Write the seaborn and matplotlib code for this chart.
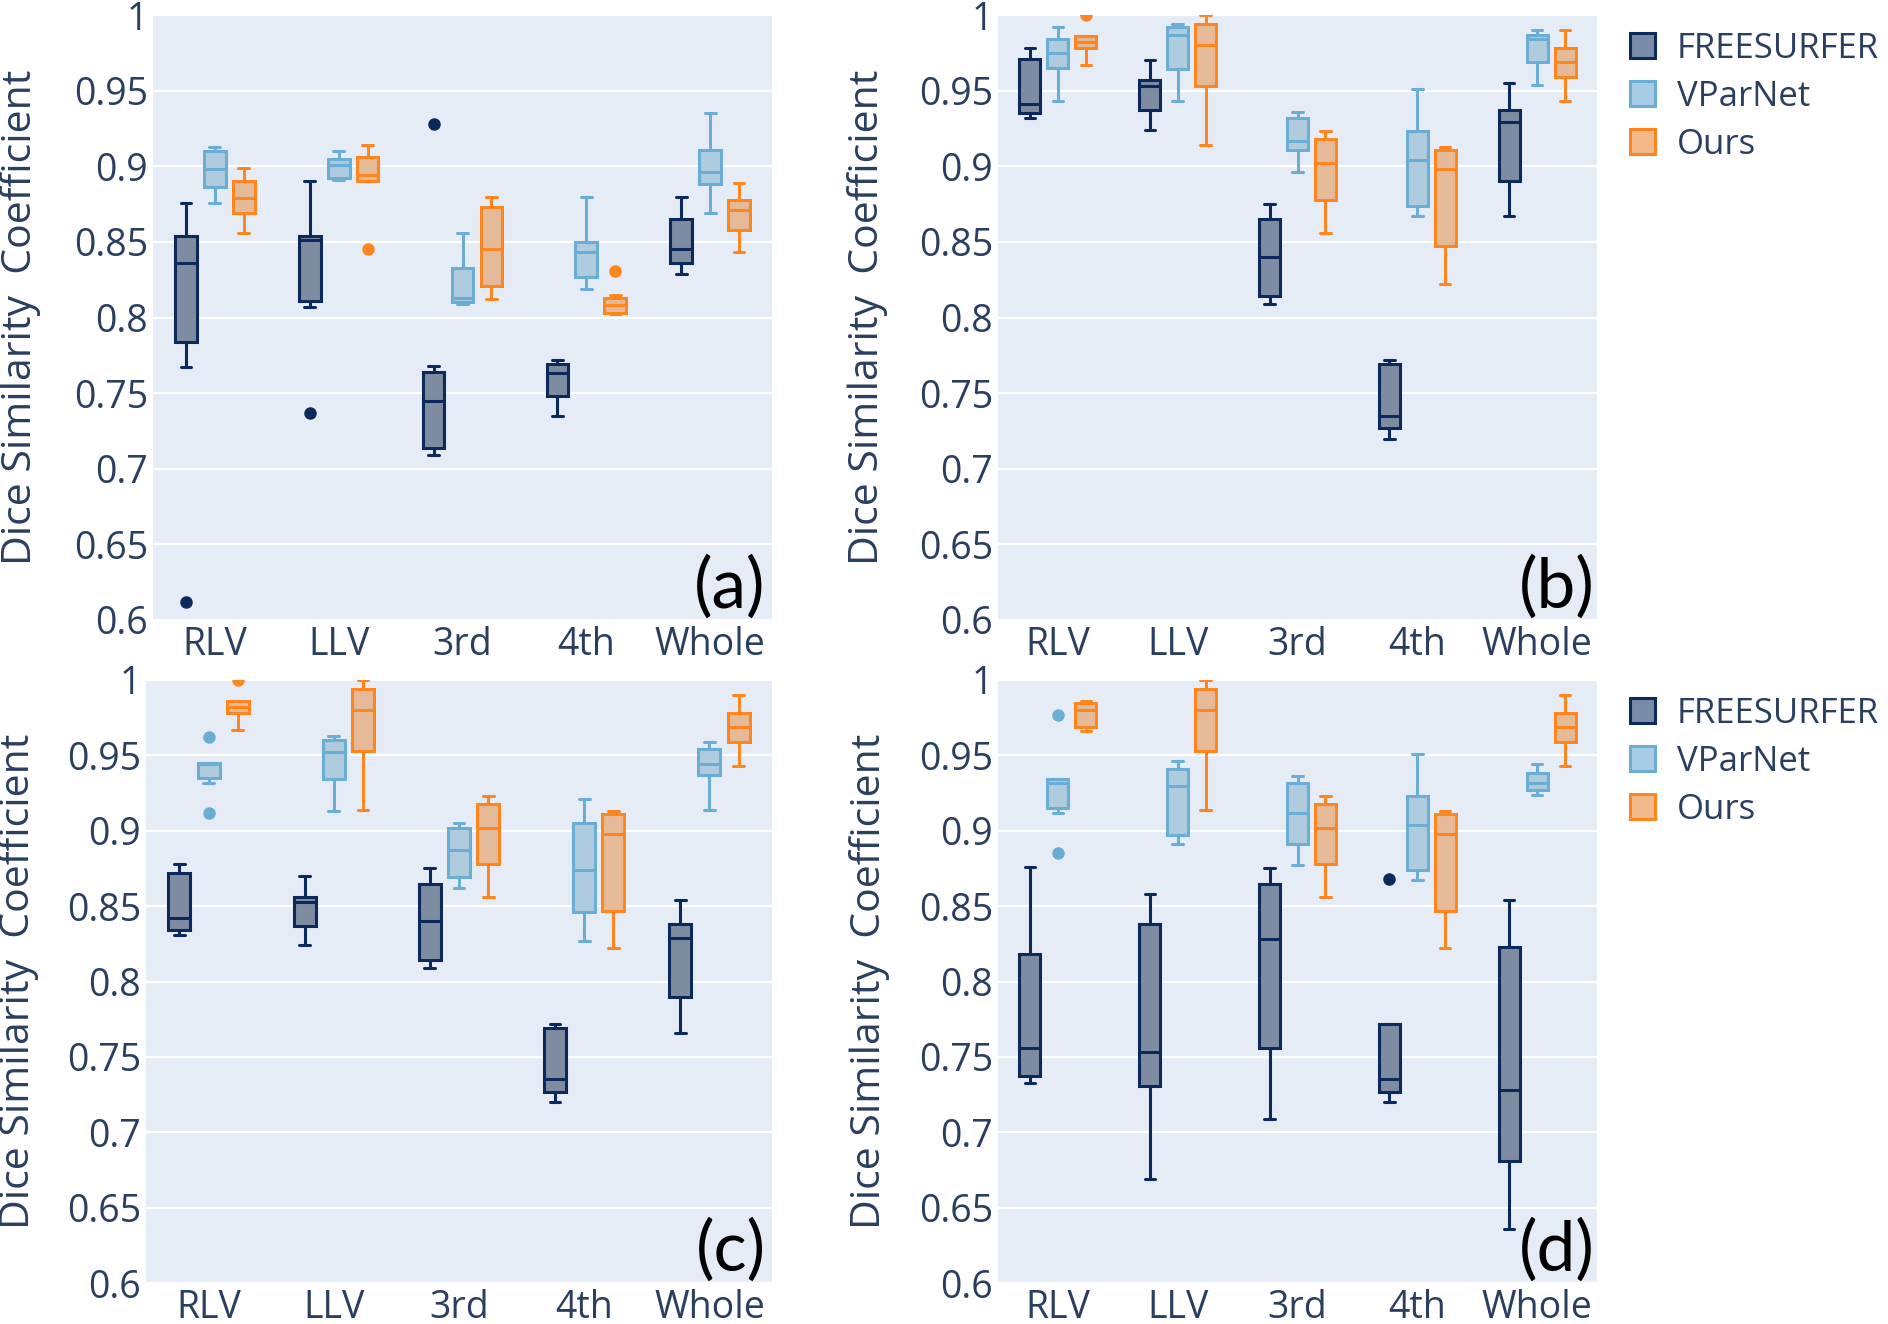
import numpy as np
import pandas as pd
import matplotlib
matplotlib.use("Agg")
import matplotlib.pyplot as plt
from matplotlib.patches import Patch
import seaborn as sns

# categories / labels
regions = ["RLV", "LLV", "3rd", "4th", "Whole"]
methods = ["FREESURFER", "VParNet", "Ours"]
yticks = [0.6, 0.65, 0.7, 0.75, 0.8, 0.85, 0.9, 0.95, 1.0]
ytick_labels = ["0.6", "0.65", "0.7", "0.75", "0.8", "0.85", "0.9", "0.95", "1"]
panel_tags = ["(a)", "(b)", "(c)", "(d)"]

# per-box samples, one list per region (RLV, LLV, 3rd, 4th, Whole)
a_free = [[0.612, 0.767, 0.784, 0.810, 0.836, 0.845, 0.854, 0.876, 0.876],
          [0.737, 0.807, 0.811, 0.830, 0.851, 0.853, 0.854, 0.890, 0.890],
          [0.709, 0.709, 0.714, 0.730, 0.745, 0.755, 0.764, 0.768, 0.928],
          [0.735, 0.748, 0.763, 0.769, 0.772],
          [0.829, 0.836, 0.845, 0.865, 0.880]]
a_vpar = [[0.876, 0.886, 0.898, 0.910, 0.913],
          [0.891, 0.892, 0.901, 0.905, 0.910],
          [0.809, 0.810, 0.813, 0.833, 0.856],
          [0.819, 0.827, 0.843, 0.850, 0.880],
          [0.869, 0.888, 0.896, 0.911, 0.935]]
a_ours = [[0.856, 0.869, 0.879, 0.890, 0.899],
          [0.845, 0.890, 0.890, 0.892, 0.894, 0.900, 0.906, 0.914, 0.914],
          [0.812, 0.821, 0.845, 0.873, 0.880],
          [0.802, 0.802, 0.803, 0.805, 0.808, 0.810, 0.813, 0.815, 0.831],
          [0.843, 0.858, 0.871, 0.878, 0.889]]

b_free = [[0.932, 0.935, 0.941, 0.971, 0.978],
          [0.924, 0.937, 0.953, 0.957, 0.970],
          [0.809, 0.814, 0.840, 0.865, 0.875],
          [0.720, 0.727, 0.735, 0.769, 0.772],
          [0.867, 0.890, 0.929, 0.937, 0.955]]
b_vpar = [[0.943, 0.965, 0.975, 0.984, 0.992],
          [0.943, 0.964, 0.987, 0.992, 0.994],
          [0.896, 0.911, 0.917, 0.932, 0.936],
          [0.867, 0.874, 0.904, 0.923, 0.951],
          [0.954, 0.969, 0.984, 0.987, 0.990]]
b_ours = [[0.967, 0.967, 0.978, 0.980, 0.982, 0.984, 0.986, 0.986, 1.000],
          [0.914, 0.953, 0.980, 0.994, 1.000],
          [0.856, 0.878, 0.902, 0.918, 0.923],
          [0.822, 0.847, 0.898, 0.911, 0.913],
          [0.943, 0.959, 0.969, 0.978, 0.990]]

c_free = [[0.831, 0.834, 0.842, 0.872, 0.878],
          [0.824, 0.837, 0.853, 0.856, 0.870],
          [0.809, 0.814, 0.840, 0.865, 0.875],
          [0.720, 0.727, 0.735, 0.769, 0.772],
          [0.766, 0.790, 0.829, 0.838, 0.854]]
c_vpar = [[0.912, 0.932, 0.935, 0.940, 0.944, 0.945, 0.945, 0.945, 0.962],
          [0.913, 0.934, 0.952, 0.960, 0.963],
          [0.862, 0.869, 0.887, 0.902, 0.905],
          [0.827, 0.846, 0.874, 0.905, 0.921],
          [0.914, 0.937, 0.944, 0.954, 0.959]]
c_ours = [[0.967, 0.967, 0.978, 0.980, 0.982, 0.984, 0.986, 0.986, 1.000],
          [0.914, 0.953, 0.980, 0.994, 1.000],
          [0.856, 0.878, 0.902, 0.918, 0.923],
          [0.822, 0.847, 0.898, 0.911, 0.913],
          [0.943, 0.959, 0.969, 0.978, 0.990]]

d_free = [[0.733, 0.737, 0.756, 0.818, 0.876],
          [0.669, 0.731, 0.753, 0.838, 0.858],
          [0.709, 0.756, 0.828, 0.865, 0.875],
          [0.720, 0.720, 0.727, 0.730, 0.735, 0.750, 0.772, 0.772, 0.868],
          [0.636, 0.681, 0.728, 0.823, 0.854]]
d_vpar = [[0.885, 0.912, 0.915, 0.925, 0.932, 0.933, 0.934, 0.934, 0.977],
          [0.891, 0.897, 0.930, 0.941, 0.946],
          [0.877, 0.891, 0.912, 0.932, 0.936],
          [0.867, 0.874, 0.904, 0.923, 0.951],
          [0.924, 0.927, 0.932, 0.938, 0.944]]
d_ours = [[0.966, 0.969, 0.980, 0.985, 0.986],
          [0.914, 0.953, 0.980, 0.994, 1.000],
          [0.856, 0.878, 0.902, 0.918, 0.923],
          [0.822, 0.847, 0.898, 0.911, 0.913],
          [0.943, 0.959, 0.969, 0.978, 0.990]]

panels = {
    "(a)": {"FREESURFER": a_free, "VParNet": a_vpar, "Ours": a_ours},
    "(b)": {"FREESURFER": b_free, "VParNet": b_vpar, "Ours": b_ours},
    "(c)": {"FREESURFER": c_free, "VParNet": c_vpar, "Ours": c_ours},
    "(d)": {"FREESURFER": d_free, "VParNet": d_vpar, "Ours": d_ours},
}

rows = []
for tag, by_method in panels.items():
    for m, boxes in by_method.items():
        for reg, vals in zip(regions, boxes):
            for v in vals:
                rows.append((tag, reg, m, v))
df = pd.DataFrame(rows, columns=["panel", "region", "method", "dsc"])

line_colors = {"FREESURFER": "#0b2a5b", "VParNet": "#6aaed6", "Ours": "#fe8620"}
fill_colors = {"FREESURFER": "#788ba8", "VParNet": "#a7cde6", "Ours": "#f2b98b"}
text_color = "#2a3f5f"

sns.set_theme(style="darkgrid", rc={"axes.facecolor": "#E5ECF6", "grid.color": "white"})
plt.rcParams["font.family"] = ["Open Sans", "DejaVu Sans"]

W, H = 1888, 1324
fig = plt.figure(figsize=(W / 100, H / 100), dpi=100)

# plot areas in pixels: left, top, right, bottom
boxes_px = {
    "(a)": (153, 15, 772, 620),
    "(b)": (998, 15, 1597, 620),
    "(c)": (146, 680, 772, 1283),
    "(d)": (998, 680, 1597, 1283),
}
ylabel_x = {"(a)": 21, "(b)": 867, "(c)": 19, "(d)": 869}
tag_x = {"(a)": 0.99, "(b)": 0.997, "(c)": 0.99, "(d)": 0.997}

for tag in panel_tags:
    x0, y0, x1, y1 = boxes_px[tag]
    ax = fig.add_axes([x0 / W, 1 - y1 / H, (x1 - x0) / W, (y1 - y0) / H])
    sub = df[df.panel == tag]
    for m in methods:
        sns.boxplot(data=sub[sub.method == m], x="region", y="dsc", hue="method",
                    order=regions, hue_order=methods, palette=fill_colors,
                    dodge=True, width=0.7, gap=0.25,
                    linecolor=line_colors[m], linewidth=2.2, fliersize=8,
                    flierprops=dict(marker="o", markerfacecolor=line_colors[m],
                                    markeredgecolor=line_colors[m]),
                    legend=False, ax=ax)

    ax.set_ylim(0.6, 1.0)
    ax.set_yticks(yticks, ytick_labels)
    ax.set_xlabel("")
    ax.set_ylabel("")
    ax.grid(axis="x", visible=False)
    ax.grid(axis="y", color="white", linewidth=1.6)
    ax.tick_params(axis="y", length=0, pad=3.5, labelsize=27, labelcolor=text_color)
    ax.tick_params(axis="x", length=0, pad=4, labelsize=27, labelcolor=text_color)
    for s in ax.spines.values():
        s.set_visible(False)

    ax.text((ylabel_x[tag] - x0) / (x1 - x0), 0.5, "Dice Similarity  Coefficient",
            transform=ax.transAxes, rotation=90, ha="center", va="center",
            fontsize=29.5, color=text_color)
    ax.text(tag_x[tag], 0.0, tag, transform=ax.transAxes, ha="right", va="bottom",
            fontsize=50, family="Lato", color="black")

    if tag in ("(b)", "(d)"):
        handles = [Patch(facecolor=fill_colors[m], edgecolor=line_colors[m],
                         linewidth=2.2, label=m) for m in methods]
        ax.legend(handles=handles, loc="upper left",
                  bbox_to_anchor=(1630 / W, 1 - (y0 + 17) / H),
                  bbox_transform=fig.transFigure, frameon=False, fontsize=25,
                  labelcolor=text_color, handlelength=0.73, handleheight=0.73,
                  handletextpad=0.62, labelspacing=0.4, borderpad=0, borderaxespad=0)

fig.savefig("out.png", dpi=100)
